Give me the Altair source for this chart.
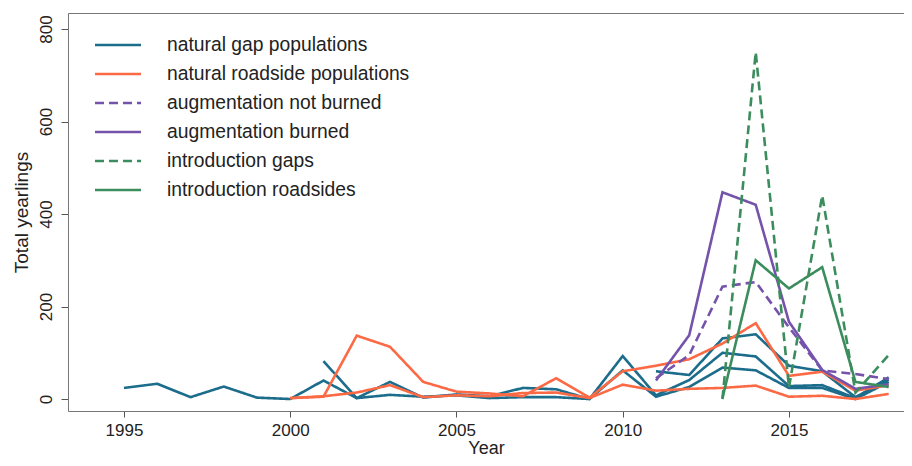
import altair as alt
import pandas as pd

groups = [
    "natural gap populations",
    "natural roadside populations",
    "augmentation not burned",
    "augmentation burned",
    "introduction gaps",
    "introduction roadsides",
]
colors = ["#1c6c8c", "#fb6a45", "#7553ab", "#7553ab", "#3c8d5d", "#3c8d5d"]
dashes = [[1, 0], [1, 0], [9, 5], [1, 0], [9, 5], [1, 0]]

# natural gap populations
gap1_years = list(range(1995, 2019))
gap1_vals = [24, 33, 4, 27, 3, 0, 40, 2, 37, 3, 10, 6, 24, 21, 0, 93, 8, 41, 100, 92, 28, 30, 2, 47]
gap2_years = list(range(2001, 2019))
gap2_vals = [82, 2, 9, 5, 8, 2, 4, 4, 0, 62, 5, 26, 68, 62, 24, 24, 0, 37]
gap3_years = list(range(2011, 2019))
gap3_vals = [60, 52, 131, 140, 72, 60, 4, 42]

# natural roadside populations
road1_years = list(range(2000, 2019))
road1_vals = [2, 5, 137, 113, 37, 16, 12, 6, 45, 3, 60, 72, 86, 120, 164, 50, 59, 18, 30]
road2_years = list(range(2000, 2019))
road2_vals = [2, 6, 14, 30, 4, 8, 6, 13, 14, 2, 31, 18, 22, 24, 29, 5, 7, 0, 11]

# augmentation
augn_years = list(range(2011, 2019))
augn_vals = [45, 95, 243, 253, 155, 62, 54, 43]
augb_years = list(range(2011, 2019))
augb_vals = [40, 138, 447, 420, 167, 63, 22, 32]

# introduction
intg_years = list(range(2013, 2019))
intg_vals = [0, 750, 25, 440, 14, 95]
intr_years = list(range(2013, 2019))
intr_vals = [2, 300, 239, 285, 37, 26]

series = [
    ("gap1", groups[0], gap1_years, gap1_vals),
    ("gap2", groups[0], gap2_years, gap2_vals),
    ("gap3", groups[0], gap3_years, gap3_vals),
    ("road1", groups[1], road1_years, road1_vals),
    ("road2", groups[1], road2_years, road2_vals),
    ("augn", groups[2], augn_years, augn_vals),
    ("augb", groups[3], augb_years, augb_vals),
    ("intg", groups[4], intg_years, intg_vals),
    ("intr", groups[5], intr_years, intr_vals),
]
rows = []
for sid, g, ys, vs in series:
    for y, v in zip(ys, vs):
        rows.append({"series": sid, "group": g, "Year": y, "value": v})
df = pd.DataFrame(rows)

FONT = "Liberation Sans"
xscale = alt.Scale(domain=[1993.316, 2018.46], nice=False, zero=False)
yscale = alt.Scale(domain=[-25.9, 834.6], nice=False, zero=False)

legend_kw = dict(title=None, orient="none", legendX=34, legendY=16,
                 symbolType="M-1.6,0H1.6", symbolSize=827, symbolStrokeWidth=2.6,
                 labelFontSize=19.3, labelFont=FONT, labelColor="#222",
                 labelOffset=33, rowPadding=2, labelLimit=400)

lines = alt.Chart(df).mark_line(strokeWidth=2.6, clip=True).encode(
    x=alt.X("Year:Q", scale=xscale,
            axis=alt.Axis(values=[1995, 2000, 2005, 2010, 2015], format="d", title="Year",
                          grid=False, tickSize=6, labelPadding=5, titlePadding=1,
                          domainColor="#777", tickColor="#555", labelColor="#222",
                          titleColor="#222", labelFontSize=17, titleFontSize=18,
                          labelFont=FONT, titleFont=FONT, titleFontWeight="normal")),
    y=alt.Y("value:Q", scale=yscale,
            axis=alt.Axis(values=[0, 200, 400, 600, 800], title="Total yearlings",
                          grid=False, tickSize=7, labelAngle=270, labelAlign="center",
                          labelBaseline="bottom", labelPadding=6, titlePadding=6,
                          domainColor="#777", tickColor="#555", labelColor="#222",
                          titleColor="#222", labelFontSize=17, titleFontSize=19,
                          labelFont=FONT, titleFont=FONT, titleFontWeight="normal")),
    color=alt.Color("group:N", scale=alt.Scale(domain=groups, range=colors),
                    legend=alt.Legend(**legend_kw)),
    strokeDash=alt.StrokeDash("group:N", scale=alt.Scale(domain=groups, range=dashes),
                              legend=alt.Legend(**legend_kw)),
    detail="series:N",
    order="Year:Q",
)

topline = alt.Chart(df).mark_line(opacity=0).encode(
    x=alt.X("Year:Q", scale=xscale,
            axis=alt.Axis(orient="top", labels=False, ticks=False, title=None,
                          grid=False, domainColor="#777")),
    y=alt.Y("value:Q", scale=yscale),
    detail="series:N",
)

chart = alt.layer(lines, topline).resolve_axis(x="independent").properties(
    width=836, height=398,
    autosize=alt.AutoSizeParams(type="none"),
    padding={"left": 60, "top": 5, "right": 0, "bottom": 47},
).configure_view(stroke=None).configure(background="white")

chart.save("out.html", embed_options={"renderer": "svg", "actions": False})
